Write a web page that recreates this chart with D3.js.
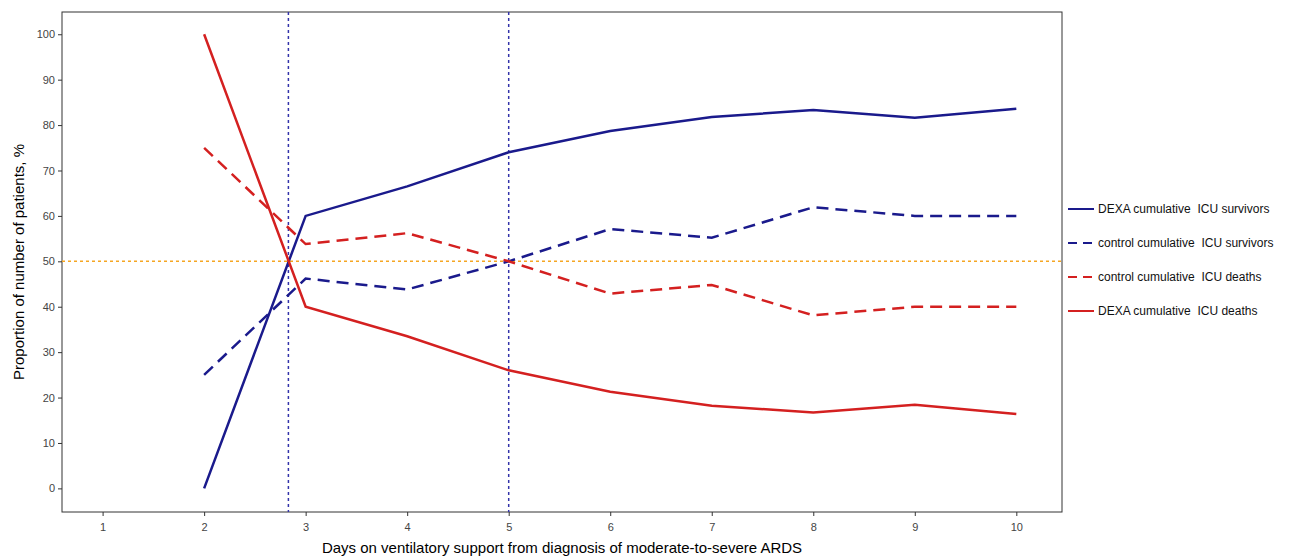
<!DOCTYPE html>
<html><head><meta charset="utf-8">
<script src="https://cdn.jsdelivr.net/npm/d3@7"></script>
<style>body{margin:0;background:#fff;font-family:"Liberation Sans",Arial,sans-serif}text{white-space:pre}</style>
</head><body><svg id="c" width="1293" height="559"></svg>
<script>
const days = [2, 3, 4, 5, 6, 7, 8, 9, 10];
const dexaSurvivors = [0, 60, 66.5, 74, 78.7, 81.8, 83.3, 81.6, 83.6];
const controlSurvivors = [25, 46.2, 43.8, 50, 57.1, 55.2, 61.9, 60, 60];
const controlDeaths = [75, 53.8, 56.2, 50, 42.9, 44.8, 38.1, 40, 40];
const dexaDeaths = [100, 40, 33.5, 26, 21.3, 18.2, 16.7, 18.4, 16.4];
const xTicks = [1, 2, 3, 4, 5, 6, 7, 8, 9, 10];
const yTicks = [0, 10, 20, 30, 40, 50, 60, 70, 80, 90, 100];
const vLines = [2.83, 5];

const series = [
  { name: 'DEXA cumulative  ICU survivors', values: dexaSurvivors, color: '#1a1a8c', dash: null },
  { name: 'control cumulative  ICU survivors', values: controlSurvivors, color: '#1a1a8c', dash: '12,7' },
  { name: 'control cumulative  ICU deaths', values: controlDeaths, color: '#d42020', dash: '12,7' },
  { name: 'DEXA cumulative  ICU deaths', values: dexaDeaths, color: '#d42020', dash: null },
];

const svg = d3.select('#c');
const L = 62, R = 1062, T = 12, B = 512;
const x = d3.scaleLinear().domain([0.6, 10.45]).range([L, R]);
const y = d3.scaleLinear().domain([-5.2, 104.9]).range([B, T]);

svg.append('rect').attr('x', L).attr('y', T).attr('width', R - L).attr('height', B - T)
  .attr('fill', 'none').attr('stroke', '#333').attr('stroke-width', 1);

const xa = svg.append('g').attr('transform', `translate(0,${B})`)
  .call(d3.axisBottom(x).tickValues(xTicks).tickSize(4).tickFormat(d3.format('d')));
const ya = svg.append('g').attr('transform', `translate(${L},0)`)
  .call(d3.axisLeft(y).tickValues(yTicks).tickSize(4));
[xa, ya].forEach(a => {
  a.select('.domain').remove();
  a.selectAll('text').attr('fill', '#444').style('font-size', '11px');
  a.selectAll('line').attr('stroke', '#333');
});
xa.selectAll('text').attr('dy', '1.1em');

svg.append('line').attr('x1', L).attr('x2', R).attr('y1', y(50)).attr('y2', y(50))
  .attr('stroke', '#f5a623').attr('stroke-width', 1.5).attr('stroke-dasharray', '3,3');
vLines.forEach(v => svg.append('line').attr('x1', x(v)).attr('x2', x(v)).attr('y1', T).attr('y2', B)
  .attr('stroke', '#3333aa').attr('stroke-width', 1.5).attr('stroke-dasharray', '3,3'));

const line = d3.line().x((d, i) => x(days[i])).y(d => y(d));
series.forEach(s => svg.append('path').attr('d', line(s.values)).attr('fill', 'none')
  .attr('stroke', s.color).attr('stroke-width', 2.5).attr('stroke-dasharray', s.dash));

const lg = svg.append('g').attr('transform', 'translate(1068,209)');
series.forEach((s, i) => {
  const g = lg.append('g').attr('transform', `translate(0,${i * 34})`);
  g.append('line').attr('x1', 0).attr('x2', 26).attr('stroke', s.color).attr('stroke-width', 2)
    .attr('stroke-dasharray', s.dash ? '9,6' : null);
  g.append('text').attr('x', 30).attr('y', 4).text(s.name).style('font-size', '12px').attr('fill', '#111');
});

svg.append('text').attr('x', (L + R) / 2).attr('y', 553).attr('text-anchor', 'middle')
  .style('font-size', '15px').text('Days on ventilatory support from diagnosis of moderate-to-severe ARDS');
svg.append('text').attr('transform', `translate(24,${(T + B) / 2}) rotate(-90)`).attr('text-anchor', 'middle')
  .style('font-size', '15px').text('Proportion of number of patients, %');
</script></body></html>
